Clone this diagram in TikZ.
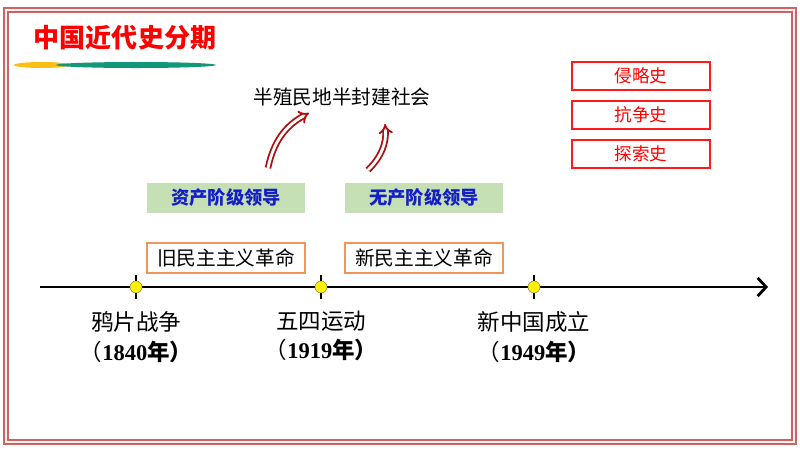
\documentclass[tikz,border=0pt]{standalone}
\usepackage{fontspec}
\setmainfont{Liberation Serif}
\newfontfamily\cjk{Noto Sans CJK SC}
\usetikzlibrary{shapes,arrows,arrows.meta}
\definecolor{framered}{RGB}{200,100,100}
\definecolor{leadgreen}{RGB}{197,224,180}
\definecolor{leadblue}{RGB}{20,30,200}
\definecolor{revoorange}{RGB}{240,150,90}
\definecolor{risered}{RGB}{175,15,15}
\definecolor{barteal}{RGB}{20,150,120}
\definecolor{baryellow}{RGB}{250,190,20}
\tikzstyle{lead} = [rectangle, fill=leadgreen, minimum width=3.95cm, minimum height=0.75cm, text centered, text=leadblue, font=\cjk\bfseries\fontsize{13}{15}\selectfont]
\tikzstyle{revo} = [rectangle, draw=revoorange, line width=0.8pt, minimum width=3.95cm, minimum height=0.75cm, text centered, font=\cjk\fontsize{14}{16}\selectfont]
\tikzstyle{hist} = [rectangle, draw=red!90, line width=1.1pt, minimum width=3.45cm, minimum height=0.7cm, text centered, text=red, font=\cjk\fontsize{12.5}{14}\selectfont]
\tikzstyle{dot} = [circle, fill=yellow, draw=black!50!yellow, inner sep=0pt, minimum size=0.3cm]
\tikzstyle{event} = [align=center, font=\fontsize{16}{21}\selectfont]
\tikzstyle{tick} = [line width=1.5pt]
\tikzstyle{arrow} = [line width=2pt,-{Straight Barb[length=6pt,width=13pt]}]
\tikzstyle{rise} = [double=white, double distance=2pt, draw=risered, line width=1.3pt, -implies]

\begin{document}
\begin{tikzpicture}[x=0.025cm, y=-0.025cm]
\useasboundingbox (0,0) rectangle (800,450);
% frame
\draw[framered, line width=1.2pt, double=pink!30, double distance=1.5pt] (6,10) rectangle (794,442);

% title
\node (title) at (125,38) [text=red, font=\cjk\bfseries\fontsize{18.5}{20}\selectfont] {中国近代史分期};
\fill[baryellow] (42,65) ellipse (28 and 3);
\fill[barteal] (136,65) ellipse (80 and 3);

% society and the two leads
\node (society) at (342,97) [font=\cjk\fontsize{14}{16}\selectfont] {半殖民地半封建社会};
\node (lead1) at (226,198) [lead] {资产阶级领导};
\node (lead2) at (424,198) [lead] {无产阶级领导};
\coordinate (r1a) at (268,168);
\coordinate (r1b) at (309,113);
\coordinate (r2a) at (368,170);
\coordinate (r2b) at (385,124);
\draw [rise] (r1a) to[bend left=25] (r1b);
\draw [rise] (r2a) to[bend right=25] (r2b);

% revolutions
\node (old) at (226,258) [revo] {旧民主主义革命};
\node (new) at (424,258) [revo] {新民主主义革命};

% three histories
\node (h1) at (641,76) [hist] {侵略史};
\node (h2) at (641,115) [hist] {抗争史};
\node (h3) at (641,154) [hist] {探索史};

% timeline
\coordinate (tl0) at (40,287);
\coordinate (tl1) at (768,287);
\draw [arrow] (tl0) -- (tl1);
\node (t1) at (136,287) [dot] {};
\node (t2) at (321,287) [dot] {};
\node (t3) at (534,287) [dot] {};
\foreach \t in {t1,t2,t3}
  \draw [tick] (\t.center) ++(0,-12) -- (\t.north);
\foreach \t in {t1,t2,t3}
  \draw [tick] (\t.south) -- ++(0,6);

\node (e1) at (136,337) [event] {{\cjk 鸦片战争}\\{\cjk （}\textbf{1840}{\cjk\bfseries 年）}};
\node (e2) at (321,336) [event] {{\cjk 五四运动}\\{\cjk （}\textbf{1919}{\cjk\bfseries 年）}};
\node (e3) at (534,337) [event] {{\cjk 新中国成立}\\{\cjk （}\textbf{1949}{\cjk\bfseries 年）}};
\end{tikzpicture}
\end{document}
